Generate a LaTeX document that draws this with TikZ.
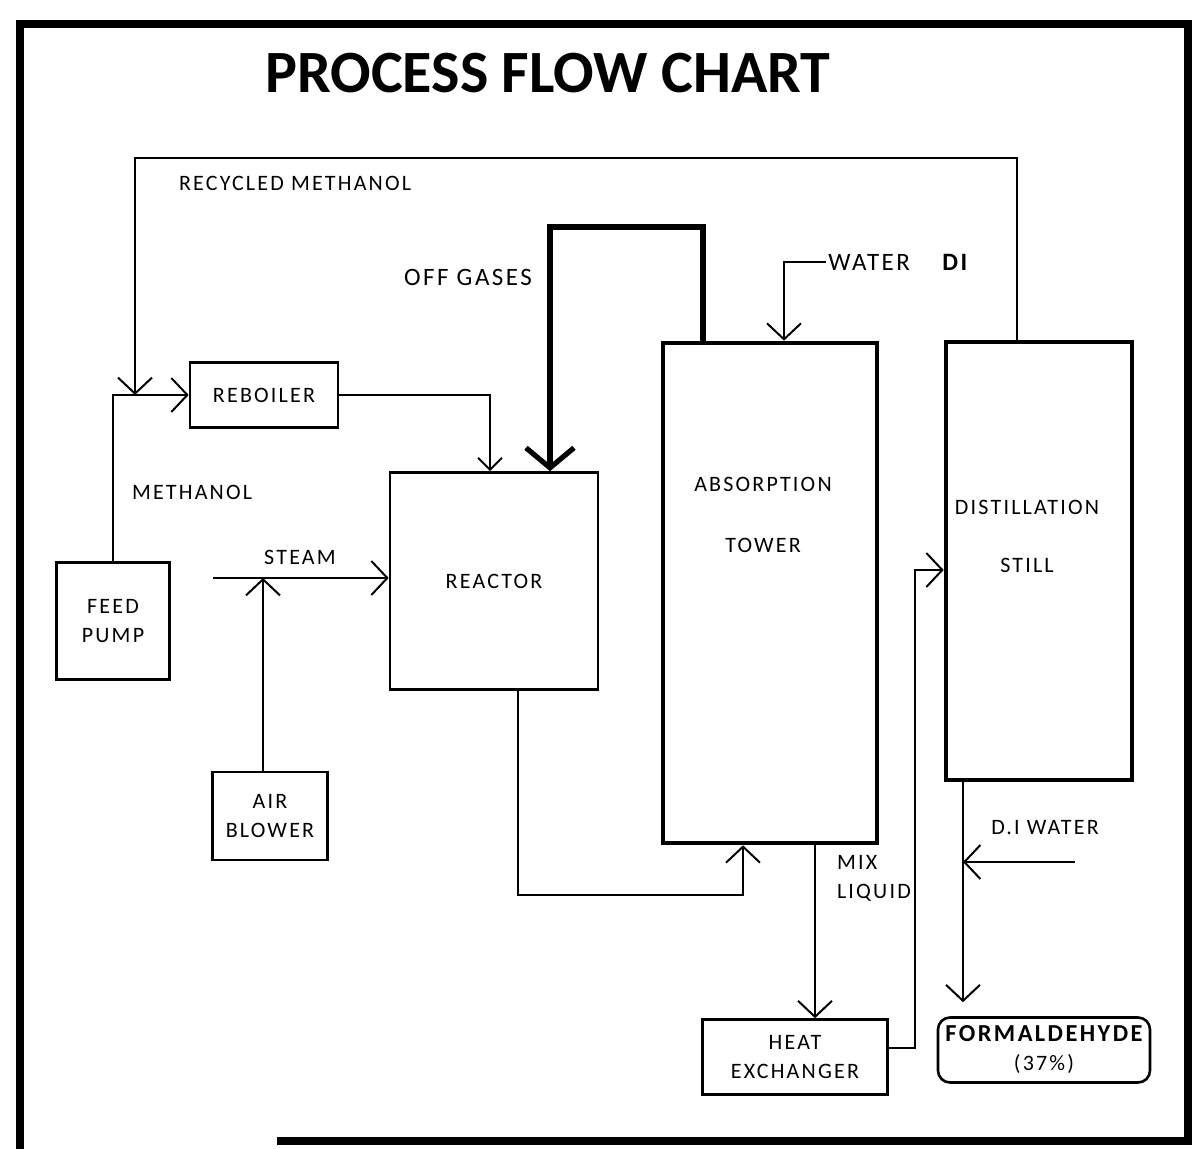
\documentclass[tikz,border=0pt]{standalone}
\usepackage{fontspec}
\setsansfont{Carlito}[LetterSpace=10]
\newfontfamily\titlefont{Carlito}
\usetikzlibrary{arrows.meta, positioning}

\begin{document}
\begin{tikzpicture}[x=0.5pt, y=-0.5pt, font=\sffamily\fontsize{11}{14.5}\selectfont,
  box/.style={draw, line width=1.3pt, align=center, inner sep=0pt},
  tower/.style={draw, line width=2.3pt, inner sep=0pt},
  flow/.style={line width=1pt, -{Straight Barb[length=8pt, width=17pt]}},
  lab/.style={align=left}]
\useasboundingbox (0,0) rectangle (1194,1149);
\draw[line width=4pt] (277,1141) -- (1188,1141) -- (1188,24) -- (20,24) -- (20,1149);
\node (title) at (548,73) {\titlefont\fontsize{30}{34}\selectfont\bfseries PROCESS FLOW CHART};
% units
\node[box, minimum width=74pt, minimum height=32.5pt] (reboiler) at (264,395) {REBOILER};
\node[box, minimum width=56.5pt, minimum height=58.5pt] (pump) at (113,621) {FEED\\PUMP};
\node[box, minimum width=57.5pt, minimum height=44pt] (blower) at (270,816) {AIR\\BLOWER};
\node[box, minimum width=104pt, minimum height=108.5pt] (reactor) at (494,581) {REACTOR};
\node[tower, minimum width=107pt, minimum height=250pt] (tower) at (770,593) {};
\node[align=center] (towertxt) at (763,515) {ABSORPTION\\[16pt]TOWER};
\node[tower, minimum width=93pt, minimum height=219pt] (still) at (1039,561) {};
\node[align=center] (stilltxt) at (1027,536) {DISTILLATION\\[14.5pt]STILL};
\node[box, minimum width=92.5pt, minimum height=37.5pt] (hx) at (795,1057) {HEAT\\EXCHANGER};
\node[box, rounded corners=6pt, minimum width=106pt, minimum height=32.5pt] (form) at (1044,1050)
  {\fontsize{12.2}{14}\selectfont\bfseries FORMALDEHYDE\\\fontsize{11}{14}\selectfont(37\%)};
% labels
\node[lab, anchor=west] (recyc) at (172,183) {RECYCLED METHANOL};
\node[lab, anchor=west] (meth) at (125,492) {METHANOL};
\node (steam) at (300,557) {STEAM};
\node[anchor=east] (offgas) at (539,277) {\fontsize{12.5}{14}\selectfont OFF GASES};
\node[anchor=west, inner sep=1pt] (water) at (826,262) {\fontsize{12.5}{14}\selectfont WATER\hspace{1.2em}\textbf{DI}};
\node[lab, anchor=west] (mix) at (830,878) {MIX\\LIQUID};
\node (diwater) at (1045,828) {D.I WATER};
% streams
\coordinate (mjoin) at (135,395);
\coordinate (steamin) at (213,578);
\coordinate (diw) at (1075,862);
\coordinate (sout) at ([xshift=-38pt]still.south);
\draw[flow] ([xshift=-11pt]still.north) |- (135,158) -- (mjoin);
\draw[flow] (pump.north) |- (reboiler.west);
\draw[flow, -{Straight Barb[length=6pt, width=12pt]}] (reboiler.east) -| ([xshift=-2pt]reactor.north);
\draw[line width=2.6pt, -{Straight Barb[length=10pt, width=24pt]}] ([xshift=-33.5pt]tower.north) |- (550,227) -- ([xshift=28pt]reactor.north);
\draw[flow] (steamin) -- (reactor.west |- steamin);
\draw[flow] ([xshift=-3.5pt]blower.north) -- ([xshift=-3.5pt]blower.north |- steamin);
\draw[flow] ([xshift=12pt]reactor.south) |- ([xshift=-13.5pt, yshift=-25pt]tower.south) -- ([xshift=-13.5pt]tower.south);
\draw[flow] (water.west) -| ([xshift=7pt]tower.north);
\draw[flow] ([xshift=22.5pt]tower.south) -- ([xshift=22.5pt]tower.south |- hx.north);
\draw[flow] ([yshift=4.5pt]hx.east) -- ++(13pt,0pt) |- ([yshift=-4.5pt]still.west);
\draw[flow, shorten >=7pt] (sout) -- (sout |- form.north);
\draw[flow] (diw) -- (diw -| sout);
\end{tikzpicture}
\end{document}
